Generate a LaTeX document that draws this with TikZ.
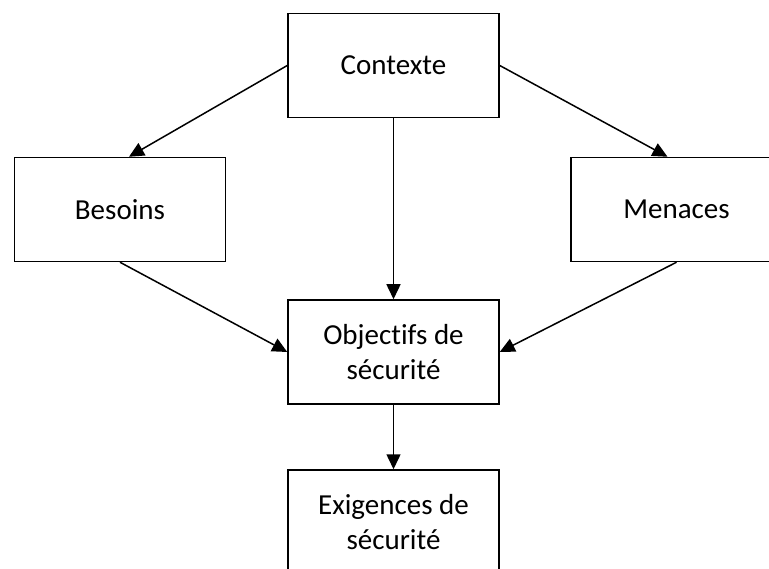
\documentclass[tikz,border=0pt]{standalone}
\usepackage{fontspec}
\setmainfont{Carlito}[Ligatures=NoCommon]
\usetikzlibrary{positioning,calc,arrows.meta}

\begin{document}
\begin{tikzpicture}[x=1pt, y=-1pt, line width=1.5pt,
		box/.style={shape=rectangle, draw, minimum width=211pt, minimum height=104pt, inner sep=0pt, align=center, font=\fontsize{29}{35}\selectfont},
		fleche/.style={-{Triangle[length=15pt, width=14pt]}}]
			\clip (0,0) rectangle (769,569);
			\node[name=ctx, box] at (393.5,65.5) {Contexte};
			\node[name=bes, box] at (120,209.5) {Besoins};
			\node[name=men, box] at (676.5,209.5) {Menaces};
			\node[name=obj, box] at (393.5,352) {Objectifs de\\sécurité};
			\node[name=exi, box] at (393.5,522) {Exigences de\\sécurité};
			\draw[fleche] (ctx.west) -- ($(bes.north)+(9,0)$);
			\draw[fleche] (ctx.east) -- ($(men.north)+(-9,0)$);
			\draw[fleche] (ctx.south) -- (obj.north);
			\draw[fleche] (bes.south) -- (obj.west);
			\draw[fleche] (men.south) -- (obj.east);
			\draw[fleche] (obj.south) -- (exi.north);
		\end{tikzpicture}
\end{document}
